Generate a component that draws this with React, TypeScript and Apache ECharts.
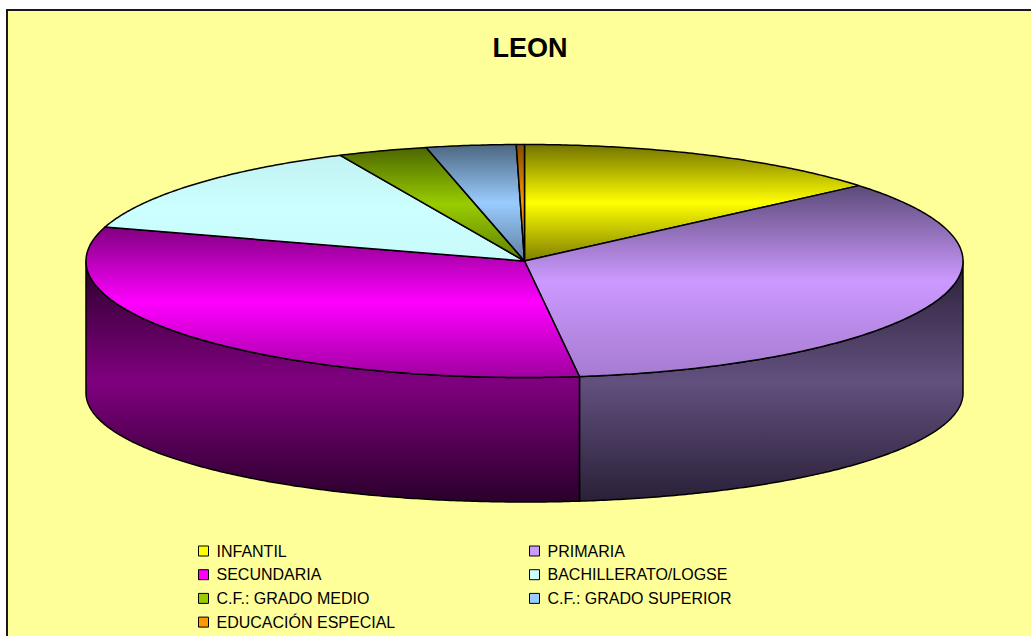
import React, { useEffect, useRef } from "react";
import * as echarts from "echarts";

// ---- data ----
const chartTitle = "LEON";
const categories = [
  "INFANTIL",
  "PRIMARIA",
  "SECUNDARIA",
  "BACHILLERATO/LOGSE",
  "C.F.: GRADO MEDIO",
  "C.F.: GRADO SUPERIOR",
  "EDUCACIÓN ESPECIAL",
];
const shares = [13.8, 34.2, 31.7, 13.4, 3.3, 3.3, 0.3];
const baseColors = ["#ffff00", "#cc99ff", "#ff00ff", "#ccffff", "#99cc00", "#99ccff", "#ff9900"];
const topDarkTop = ["#737300", "#5c4a78", "#800080", "#c2f2f2", "#4c6600", "#4c6680", "#804c00"];
const topDarkBottom = ["#7f7f00", "#a57bd0", "#a000a0", "#c8fafa", "#5f7f00", "#5f7fa0", "#995c00"];
const sideDark = ["#5a5a00", "#2a2038", "#2a002a", "#8fb3b3", "#3d5200", "#3d5266", "#663d00"];
const sideMid = ["#999900", "#62507e", "#800080", "#a3cccc", "#7a9900", "#7a99b3", "#b36b00"];
const legendLeft = ["INFANTIL", "SECUNDARIA", "C.F.: GRADO MEDIO", "EDUCACIÓN ESPECIAL"];
const legendRight = ["PRIMARIA", "BACHILLERATO/LOGSE", "C.F.: GRADO SUPERIOR"];

// ---- layout ----
const CX = 524.5;
const CY = 261;
const RX = 438.5;
const RY = 116.5;
const BCY = 393;
const BRY = 109;
const STEP = 0.5;

const total = shares.reduce((a, b) => a + b, 0);
const startAngles: number[] = [];
const endAngles: number[] = [];
{
  let acc = 0;
  shares.forEach((v) => {
    startAngles.push((acc / total) * 360);
    acc += v;
    endAngles.push((acc / total) * 360);
  });
}

const rad = (d: number) => (d * Math.PI) / 180;
const topPt = (t: number) => [CX + RX * Math.sin(rad(t)), CY - RY * Math.cos(rad(t))];
const botPt = (t: number) => [CX + RX * Math.sin(rad(t)), BCY - BRY * Math.cos(rad(t))];

function arc(a0: number, a1: number, f: (t: number) => number[]) {
  const pts: number[][] = [];
  for (let t = a0; t < a1; t += STEP) pts.push(f(t));
  pts.push(f(a1));
  return pts;
}

function renderTop(params: any) {
  const i = params.dataIndex;
  const a0 = startAngles[i];
  const a1 = endAngles[i];
  const points = [[CX, CY], ...arc(a0, a1, topPt)];
  return {
    type: "polygon",
    shape: { points },
    style: {
      fill: new echarts.graphic.LinearGradient(0, 0, 0, 1, [
        { offset: 0, color: topDarkTop[i] },
        { offset: 0.5, color: baseColors[i] },
        { offset: 1, color: topDarkBottom[i] },
      ]),
      stroke: "#000",
      lineWidth: 1.5,
      lineJoin: "round",
    },
  };
}

function renderSide(params: any) {
  const i = params.dataIndex;
  const s = Math.max(startAngles[i], 90);
  const e = Math.min(endAngles[i], 270);
  if (s >= e) return { type: "group", children: [] };
  const top = arc(s, e, topPt);
  const bot = arc(s, e, botPt).reverse();
  return {
    type: "polygon",
    shape: { points: [...top, ...bot] },
    style: {
      fill: new echarts.graphic.LinearGradient(0, 0, 0, 1, [
        { offset: 0, color: sideDark[i] },
        { offset: 0.5, color: sideMid[i] },
        { offset: 1, color: sideDark[i] },
      ]),
      stroke: "#000",
      lineWidth: 1.5,
      lineJoin: "round",
    },
  };
}

const legendText = {
  fontFamily: "Liberation Sans, Arial, sans-serif",
  fontSize: 16,
  lineHeight: 16,
  color: "#000",
  padding: [0, 0, 0, 3],
};

const legendBase = {
  orient: "vertical",
  top: 543,
  height: 92,
  padding: 0,
  itemWidth: 10,
  itemHeight: 10,
  itemGap: 7.7,
  icon: "rect",
  selectedMode: false,
  itemStyle: { borderColor: "#000", borderWidth: 1 },
  textStyle: legendText,
};

export default function App() {
  const ref = useRef<HTMLDivElement>(null);
  useEffect(() => {
    if (!ref.current) return;
    const chart = echarts.init(ref.current, undefined, { renderer: "svg" });
    chart.setOption({
      animation: false,
      backgroundColor: "#ffffff",
      graphic: [
        {
          type: "rect",
          z: -10,
          shape: { x: 7, y: 10, width: 1040, height: 700 },
          style: { fill: "#ffff99", stroke: "#1a1a1a", lineWidth: 2 },
        },
        {
          type: "text",
          z: 10,
          x: 530,
          y: 48,
          style: {
            text: chartTitle,
            fontFamily: "Liberation Sans, Arial, sans-serif",
            fontWeight: "bold",
            fontSize: 27,
            fill: "#000",
            align: "center",
            verticalAlign: "middle",
          },
        },
      ],
      legend: [
        { ...legendBase, data: legendLeft, left: 198 },
        { ...legendBase, data: legendRight, left: 529 },
      ],
      series: [
        {
          type: "pie",
          name: "legend",
          center: [-100, -100],
          radius: [0, 0],
          silent: true,
          label: { show: false },
          labelLine: { show: false },
          itemStyle: { borderWidth: 0 },
          data: categories.map((name, i) => ({
            name,
            value: shares[i],
            itemStyle: { color: baseColors[i] },
          })),
        },
        {
          type: "custom",
          name: "sides",
          coordinateSystem: "none",
          silent: true,
          z: 2,
          renderItem: renderSide,
          data: shares,
        },
        {
          type: "custom",
          name: "tops",
          coordinateSystem: "none",
          silent: true,
          z: 3,
          renderItem: renderTop,
          data: shares,
        },
      ],
    });
    return () => chart.dispose();
  }, []);
  return (
    <div
      ref={ref}
      style={{ position: "fixed", left: 0, top: 0, width: 1031, height: 636 }}
    />
  );
}
